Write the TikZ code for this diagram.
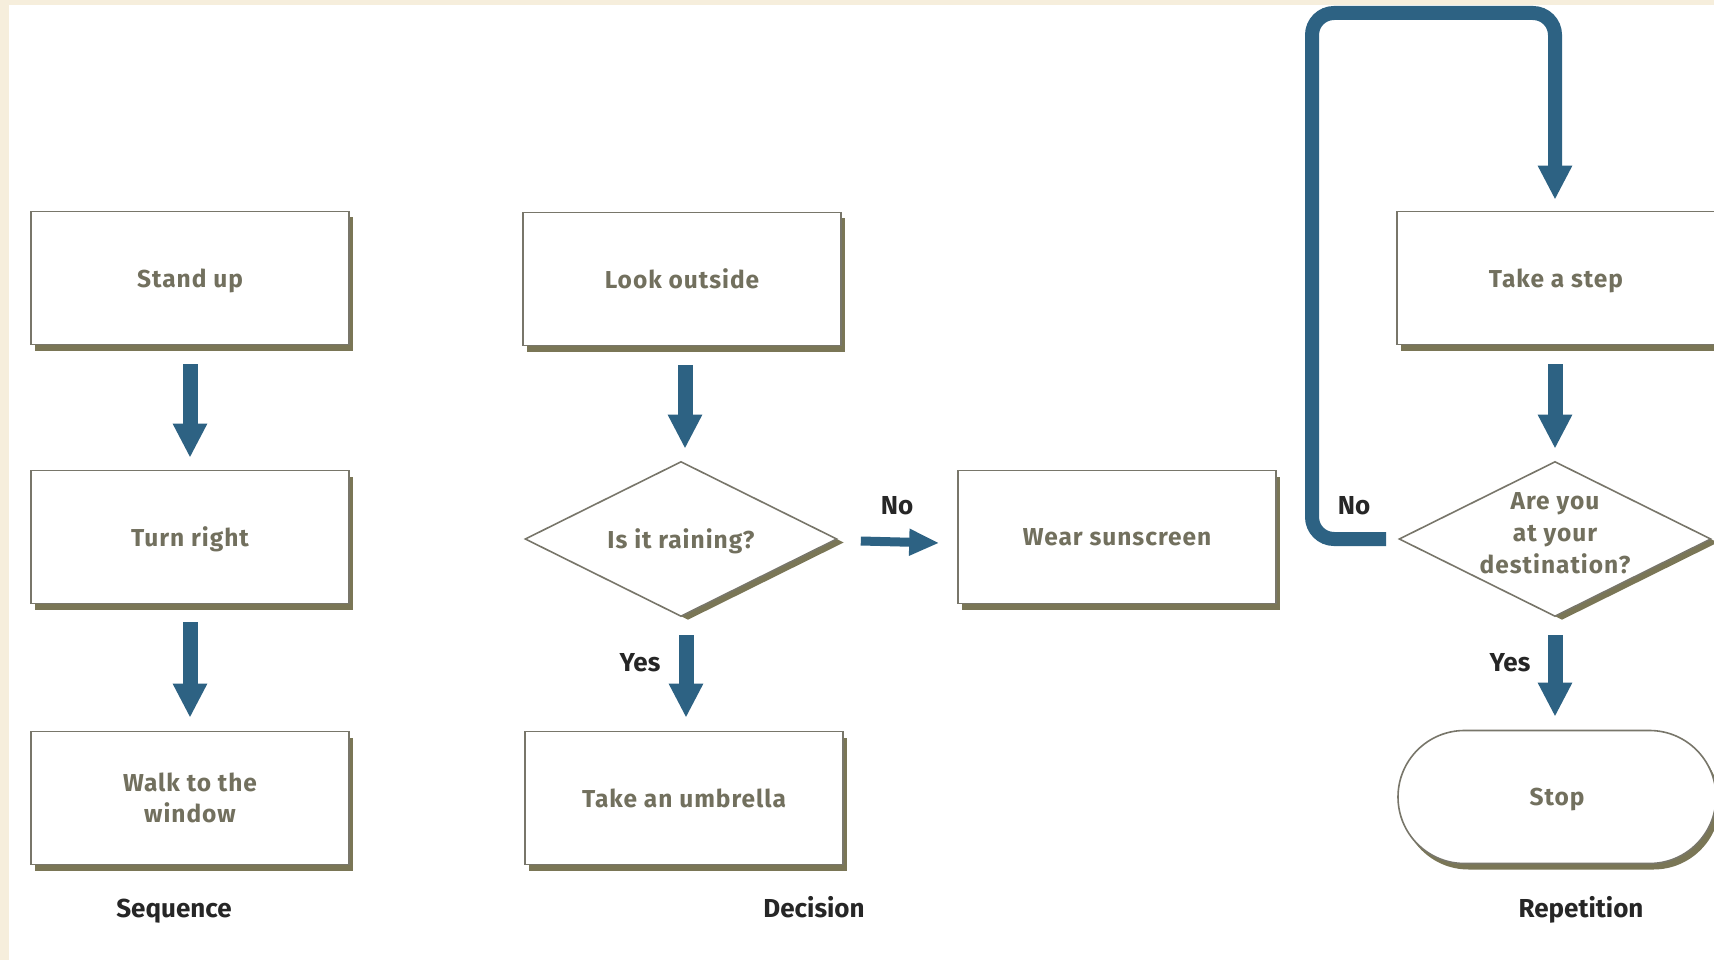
\documentclass[tikz,border=0pt]{standalone}
\usepackage{fontspec}
\setmainfont{Fira Sans}
\newfontfamily\spacedfam{Fira Sans}[LetterSpace=4]
\usetikzlibrary{arrows.meta,shapes.geometric,shapes.misc,shadows}
\definecolor{cream}{HTML}{F6EEDC}
\definecolor{edgecol}{HTML}{78766A}
\definecolor{shcol}{HTML}{7A7656}
\definecolor{arrowcol}{HTML}{2D6283}
\definecolor{txtcol}{HTML}{72705E}
\definecolor{labcol}{HTML}{262626}
\newcommand\boxtext{\spacedfam\bfseries\fontsize{24.5}{31}\selectfont}
\newcommand\captext{\bfseries\fontsize{26}{30}\selectfont}
\begin{document}
\begin{tikzpicture}[x=1pt,y=-1pt,
  evenline/.style={execute at begin node=\vphantom{A}, text depth=0pt},
  box/.style={draw=edgecol, line width=1.6pt, fill=white,
    minimum width=318pt, minimum height=133pt, inner sep=0pt,
    font=\boxtext, text=txtcol, align=center, evenline,
    drop shadow={shadow xshift=4pt, shadow yshift=-6pt, fill=shcol, opacity=1}},
  decide/.style={diamond, draw=edgecol, line width=1.6pt, fill=white,
    minimum width=312pt, minimum height=155pt, inner sep=0pt,
    drop shadow={shadow xshift=7pt, shadow yshift=-3.5pt, fill=shcol, opacity=1}},
  dtext/.style={font=\boxtext, text=txtcol, align=center, evenline},
  flow/.style={draw=arrowcol, line width=15pt, -{Triangle[width=32pt,length=34pt]}},
  sideflow/.style={draw=arrowcol, line width=9pt, -{Triangle[width=25pt,length=30pt]}},
  loopflow/.style={draw=arrowcol, line width=14pt, rounded corners=22pt,
    -{Triangle[width=32pt,length=34pt]}},
  caption/.style={font=\captext, text=labcol},
  colcap/.style={font=\captext, text=labcol, anchor=base},
]
\useasboundingbox (0,0) rectangle (1714,960);
% page ground: cream frame on the left and top
\fill[cream] (0,0) rectangle (1714,960);
\fill[white] (9,5) rectangle (1714,960);

% sequence column
\node[box] (stand) at (190,278) {Stand up};
\node[box] (turn) at (190,537) {Turn right};
\node[box] (walk) at (190,798) {Walk to the\\window};

% decision column
\node[box] (look) at (682,279) {Look outside};
\node[decide, label={[dtext]center:Is it raining?}] (rain) at (681,539) {};
\node[box] (sun) at (1117,537) {Wear sunscreen};
\node[box] (umb) at (684,798) {Take an umbrella};

% repetition column
\node[box] (step) at (1556,278) {Take a step};
\node[decide, label={[dtext, yshift=6pt]center:Are you\\[1pt]at your\\[1pt]destination?}] (dest) at (1555,539) {};
\node[box, rounded rectangle] (stop) at (1557,797) {Stop};

% connectors
\draw[flow] ([yshift=-19pt]stand.south) -- ([yshift=12pt]turn.north);
\draw[flow] ([yshift=-18pt]turn.south) -- ([yshift=13pt]walk.north);
\draw[flow] ([xshift=3pt,yshift=-19pt]look.south) -- ([xshift=4pt,yshift=12pt]rain.north);
\draw[flow] ([xshift=5pt,yshift=-18pt]rain.south) -- ([xshift=2pt,yshift=13pt]umb.north);
\draw[sideflow] ([xshift=23pt,yshift=-2pt]rain.east) -- ([xshift=-18pt,yshift=-6pt]sun.west);
\draw[flow] ([xshift=-1pt,yshift=-19pt]step.south) -- ([yshift=12pt]dest.north);
\draw[flow] ([yshift=-18pt]dest.south) -- ([yshift=13pt]dest.south |- stop.north);

\coordinate (loopL) at (1312,13);
\draw[loopflow] ([xshift=-12pt]dest.west) -| (loopL) -| ([xshift=-1pt,yshift=11pt]step.north);

% branch labels
\node[caption] (no1) at (897,506) {No};
\node[caption] (yes1) at (640,663) {Yes};
\node[caption] (no2) at (1354,506) {No};
\node[caption] (yes2) at (1510,663) {Yes};

% column captions
\node[colcap] (capseq) at (174,917) {Sequence};
\node[colcap] (capdec) at (814,917) {Decision};
\node[colcap] (caprep) at (1581,917) {Repetition};
\end{tikzpicture}
\end{document}
